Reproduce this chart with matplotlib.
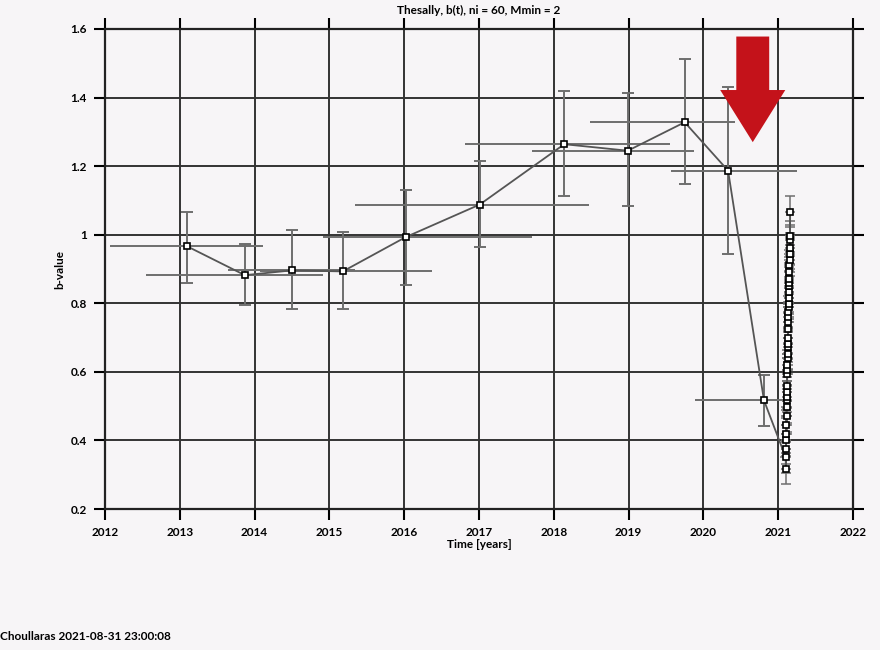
import matplotlib.pyplot as plt
import numpy as np
from matplotlib.patches import FancyArrow

plt.rcParams['font.family'] = ['Lato', 'DejaVu Sans']

# b(t) windows: centre time, b-value, error limits, window start / end
t = np.array([2013.10, 2013.87, 2014.50, 2015.18, 2016.02, 2017.01,
              2018.14, 2018.99, 2019.75, 2020.33, 2020.81])
b = np.array([0.966, 0.882, 0.896, 0.893, 0.993, 1.088,
              1.264, 1.245, 1.328, 1.187, 0.517])
b_hi = np.array([1.065, 0.972, 1.013, 1.007, 1.130, 1.215,
                 1.419, 1.413, 1.512, 1.431, 0.590])
b_lo = np.array([0.858, 0.794, 0.784, 0.784, 0.852, 0.964,
                 1.112, 1.083, 1.147, 0.943, 0.441])
t_lo = np.array([2012.07, 2012.55, 2013.64, 2014.07, 2014.91, 2015.34,
                 2016.81, 2017.71, 2018.48, 2019.57, 2019.89])
t_hi = np.array([2014.11, 2014.91, 2015.34, 2016.37, 2017.71, 2018.47,
                 2019.55, 2019.87, 2020.42, 2021.25, 2021.06])

# dense windows after the March 2021 mainshock
ct = np.array([2021.100, 2021.103, 2021.105, 2021.107, 2021.109, 2021.110,
               2021.112, 2021.113, 2021.115, 2021.116, 2021.118, 2021.119,
               2021.121, 2021.122, 2021.124, 2021.125, 2021.127, 2021.128,
               2021.130, 2021.131, 2021.133, 2021.134, 2021.136, 2021.137,
               2021.139, 2021.140, 2021.142, 2021.143, 2021.145, 2021.146,
               2021.148, 2021.149, 2021.151, 2021.152, 2021.154, 2021.155,
               2021.157, 2021.158, 2021.160])
cb = np.array([0.351, 0.317, 0.375, 0.400, 0.419, 0.444, 0.470, 0.497,
               0.517, 0.528, 0.540, 0.560, 0.594, 0.606, 0.619, 0.640,
               0.653, 0.673, 0.682, 0.700, 0.726, 0.745, 0.760, 0.775,
               0.789, 0.799, 0.815, 0.833, 0.849, 0.860, 0.872, 0.890,
               0.911, 0.925, 0.945, 0.960, 0.984, 0.996, 1.067])
cb_err = 0.045
ct_err = 0.07

fig = plt.figure(figsize=(8.8, 6.5), dpi=100, facecolor='#f7f5f7')
ax = fig.add_axes([0.1193, 0.2169, 0.85, 0.7385])
ax.set_facecolor('#f7f5f7')

ecol = '#6e6e6e'
# vertical bars with caps, horizontal window bars without
ax.errorbar(t, b, yerr=[b - b_lo, b_hi - b], fmt='none', ecolor=ecol,
            elinewidth=1.4, capsize=4, capthick=1.4, zorder=3)
ax.errorbar(t, b, xerr=[t - t_lo, t_hi - t], fmt='none', ecolor=ecol,
            elinewidth=1.4, capsize=0, zorder=3)
ax.errorbar(ct, cb, yerr=cb_err, fmt='none', ecolor=ecol,
            elinewidth=1.1, capsize=3.5, capthick=1.1, zorder=3)
ax.errorbar(ct, cb, xerr=ct_err, fmt='none', ecolor=ecol,
            elinewidth=1.1, capsize=0, zorder=3)

all_t = np.concatenate([t, ct])
all_b = np.concatenate([b, cb])
ax.plot(all_t, all_b, color='#555555', lw=1.3, zorder=4)
ax.plot(all_t, all_b, 's', ms=4.2, mfc='white', mec='black', mew=1.2, lw=0, zorder=5)

# red arrow pointing at the drop
ax.add_patch(FancyArrow(2020.66, 1.578, 0, -0.308, width=0.44, head_width=0.87,
                        head_length=0.152, length_includes_head=True,
                        color='#c4121a', lw=0, zorder=6))

ax.set_xlim(2012, 2022)
ax.set_ylim(0.2, 1.6)
ax.set_xticks(np.arange(2012, 2023, 1))
ax.set_yticks([0.2, 0.4, 0.6, 0.8, 1.0, 1.2, 1.4, 1.6])
ax.set_yticklabels(['0.2', '0.4', '0.6', '0.8', '1', '1.2', '1.4', '1.6'])
ax.grid(True, color='#333333', lw=1.4)
ax.set_axisbelow(True)
ax.tick_params(direction='out', length=8, width=1.5, top=True, right=True,
               labelsize=8.5, pad=5)
for lab in ax.get_xticklabels() + ax.get_yticklabels():
    lab.set_fontweight('bold')
for s in ax.spines.values():
    s.set_linewidth(1.6)
    s.set_color('#222222')

ax.set_xlabel('Time [years]', fontsize=8.5, fontweight='bold', labelpad=1)
ax.set_ylabel('b-value', fontsize=8.5, fontweight='bold', labelpad=4)
ax.set_title('Thesally, b(t), ni = 60, Mmin = 2', fontsize=8.5, fontweight='bold', pad=11)

fig.text(0.0, 0.015, 'Choullaras 2021-08-31 23:00:08', fontsize=8.5, fontweight='bold')

fig.savefig('out.png', dpi=100, facecolor=fig.get_facecolor())
